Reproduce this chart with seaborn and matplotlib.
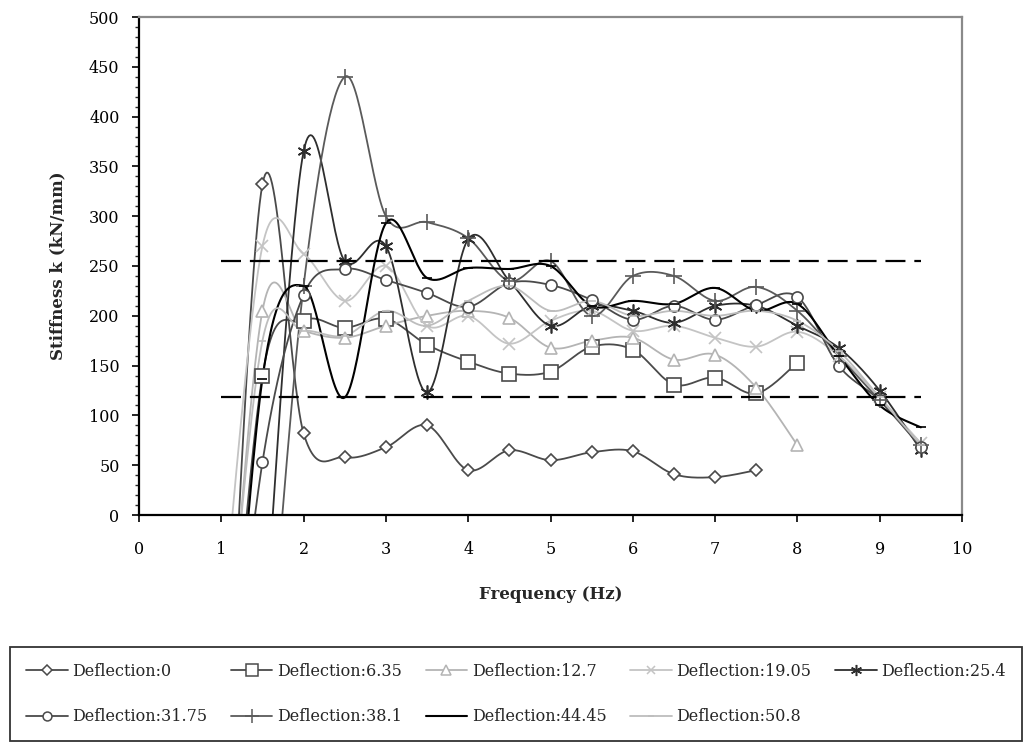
import numpy as np
import pandas as pd
import matplotlib
matplotlib.use("Agg")
import matplotlib.pyplot as plt
from matplotlib.lines import Line2D
import seaborn as sns

# ---------------- data ----------------
freq = [1.0, 1.5, 2.0, 2.5, 3.0, 3.5, 4.0, 4.5, 5.0, 5.5, 6.0, 6.5, 7.0, 7.5, 8.0, 8.5, 9.0, 9.5]
N = None
d0    = [-350, 332, 82, 58, 68, 90, 45, 65, 55, 63, 64, 41, 38, 45, N, N, N, N]
d635  = [-300, 140, 195, 188, 197, 171, 154, 142, 144, 169, 166, 131, 138, 122, 153, N, N, N]
d127  = [-250, 205, 185, 178, 190, 200, 205, 198, 168, 175, 178, 156, 161, 128, 70, N, N, N]
d1905 = [-120, 270, 262, 215, 250, 190, 200, 172, 195, 205, 185, 190, 178, 169, 184, 160, 118, 72]
d254  = [N, -150, 365, 255, 270, 123, 277, 235, 190, 210, 205, 193, 210, 210, 190, 168, 125, 65]
d3175 = [-300, 53, 221, 247, 236, 223, 209, 233, 231, 216, 196, 210, 196, 211, 219, 150, 115, 68]
d381  = [N, -250, 230, 440, 300, 294, 278, 235, 255, 200, 240, 240, 215, 229, 205, 160, 115, 70]
d4445 = [-350, 137, 230, 118, 293, 238, 248, 247, 250, 210, 215, 212, 228, 205, 212, 160, 110, 88]
d508  = [-220, 175, 185, 180, 205, 190, 215, 230, 205, 215, 200, 205, 200, 205, 195, 165, 118, 70]

labels = ["Deflection:0", "Deflection:6.35", "Deflection:12.7", "Deflection:19.05",
          "Deflection:25.4", "Deflection:31.75", "Deflection:38.1", "Deflection:44.45",
          "Deflection:50.8"]
series = [d0, d635, d127, d1905, d254, d3175, d381, d4445, d508]

limit_levels = [255, 118]
limit_span = [1.0, 9.5]

x_ticks = list(range(0, 11))
y_ticks = list(range(0, 501, 50))

# ---------------- styles ----------------
styles = [
    dict(color="#4a4a4a", marker="D", ms=6.5, mfc="white", lw=1.3),
    dict(color="#4a4a4a", marker="s", ms=10, mfc="white", lw=1.3),
    dict(color="#b4b4b4", marker="^", ms=9, mfc="white", lw=1.3),
    dict(color="#c4c4c4", marker="x", ms=8, mfc="none", lw=1.3),
    dict(color="#2e2e2e", marker=(6, 2, 0), ms=10, mfc="none", lw=1.3),
    dict(color="#4a4a4a", marker="o", ms=8, mfc="white", lw=1.3),
    dict(color="#5a5a5a", marker="+", ms=12, mfc="none", lw=1.3),
    dict(color="#000000", marker="_", ms=7, mfc="none", lw=1.5),
    dict(color="#bdbdbd", marker="_", ms=6, mfc="none", lw=1.3),
]


def smooth_curve(xv, yv, n=30):
    """Excel-like smoothed line (Bezier through the points)."""
    x = np.asarray(xv, float)
    y = np.asarray(yv, float)
    px = np.concatenate([[x[0]], x, [x[-1]]])
    py = np.concatenate([[y[0]], y, [y[-1]]])
    ox, oy = [], []
    for i in range(len(x) - 1):
        p0 = np.array([px[i], py[i]])
        p1 = np.array([px[i + 1], py[i + 1]])
        p2 = np.array([px[i + 2], py[i + 2]])
        p3 = np.array([px[i + 3], py[i + 3]])
        c1 = p1 + (p2 - p0) / 6.0
        c2 = p2 - (p3 - p1) / 6.0
        t = np.linspace(0, 1, n, endpoint=(i == len(x) - 2))[:, None]
        b = ((1 - t) ** 3) * p1 + 3 * ((1 - t) ** 2) * t * c1 + 3 * (1 - t) * t * t * c2 + t ** 3 * p2
        ox.extend(b[:, 0]); oy.extend(b[:, 1])
    return np.array(ox), np.array(oy)


sns.set_style("white")
plt.rcParams["font.family"] = ["DejaVu Serif", "Liberation Serif"]

fig = plt.figure(figsize=(10.29, 7.46), dpi=100)
ax = fig.add_axes([139 / 1029, 1 - 515 / 746, (962 - 139) / 1029, (515 - 17) / 746])

rows = []
for lab, vals in zip(labels, series):
    pts = [(f, v) for f, v in zip(freq, vals) if v is not None]
    fx, fy = zip(*pts)
    sx, sy = smooth_curve(fx, fy)
    for a, b in zip(sx, sy):
        rows.append((lab, a, b))
curves = pd.DataFrame(rows, columns=["series", "freq", "k"])

palette = {lab: st["color"] for lab, st in zip(labels, styles)}
sns.lineplot(data=curves, x="freq", y="k", hue="series", palette=palette, sort=False,
             estimator=None, units="series", legend=False, ax=ax, linewidth=1.3, zorder=2)
for line, st in zip(ax.lines, styles):
    line.set_linewidth(st["lw"])

# markers at the data points
for lab, vals, st in zip(labels, series, styles):
    pts = [(f, v) for f, v in zip(freq, vals) if v is not None]
    fx, fy = zip(*pts)
    ax.plot(fx, fy, linestyle="none", marker=st["marker"], markersize=st["ms"],
            markerfacecolor=st["mfc"], markeredgecolor=st["color"], markeredgewidth=1.2,
            zorder=3)

# limit lines
for lv in limit_levels:
    ax.plot(limit_span, [lv, lv], color="black", lw=1.6, dashes=(9, 4), zorder=4)

ax.set_xlim(0, 10)
ax.set_ylim(0, 500)
ax.set_xticks(x_ticks)
ax.set_yticks(y_ticks)
ax.set_yticks(list(range(0, 501, 10)), minor=True)
ax.tick_params(axis="both", which="major", direction="out", length=5, width=1.2,
               labelsize=11.5, colors="black", left=True, bottom=True)
ax.tick_params(axis="y", which="minor", direction="out", length=3, width=1.0, left=True)
ax.tick_params(axis="x", pad=14)
ax.tick_params(axis="y", pad=9)

for side in ["left", "bottom"]:
    ax.spines[side].set_color("black")
    ax.spines[side].set_linewidth(1.6)
for side in ["top", "right"]:
    ax.spines[side].set_color("#8a8a8a")
    ax.spines[side].set_linewidth(1.6)

ax.set_xlabel("Frequency (Hz)", fontsize=12, fontweight="bold")
ax.set_ylabel("Stiffness k (kN/mm)", fontsize=12, fontweight="bold")
ax.xaxis.set_label_coords(0.5, (515 - 586) / 498)
ax.yaxis.set_label_coords((66 - 139) / 823, 0.5)

# legend (row-major order like the reference)
handles = [Line2D([0], [0], color=st["color"], lw=st["lw"], marker=st["marker"],
                  markersize=st["ms"] * 0.8, markerfacecolor=st["mfc"],
                  markeredgecolor=st["color"], markeredgewidth=1.1) for st in styles]
order = [0, 5, 1, 6, 2, 7, 3, 8, 4]
leg = fig.legend([handles[i] for i in order], [labels[i] for i in order],
                 loc="center", ncol=5, mode="expand",
                 bbox_to_anchor=(10 / 1029, 6 / 746, 1012 / 1029, 92 / 746),
                 fontsize=11.5, frameon=True, fancybox=False, edgecolor="black",
                 handlelength=2.6, handletextpad=0.3, borderaxespad=0.0, borderpad=1.0,
                 labelspacing=1.8, columnspacing=0.6)
leg.get_frame().set_linewidth(1.3)

fig.savefig("out.png", dpi=100, facecolor="white")
